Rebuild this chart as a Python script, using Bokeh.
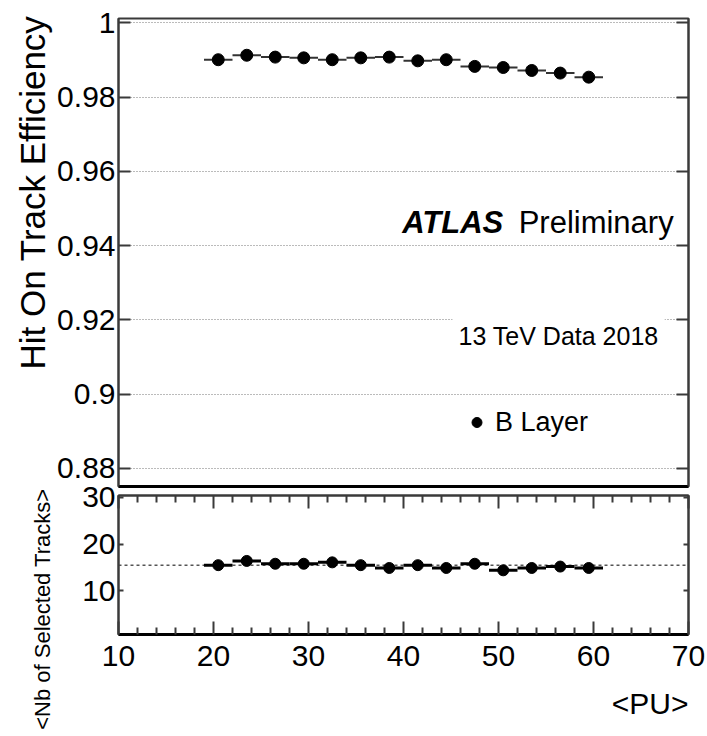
import math
from bokeh.plotting import figure
from bokeh.layouts import column
from bokeh.models import (Range1d, FixedTicker, LinearAxis, Label, Legend, LegendItem,
                          Span, CustomJSTickFormatter, Title)
from bokeh.embed import file_html
from bokeh.resources import INLINE

# ---------------- data ----------------
pu_low = [19, 22, 25, 28, 31, 34, 37, 40, 43, 46, 49, 52, 55, 58]
pu_high = [22, 25, 28, 31, 34, 37, 40, 43, 46, 49, 52, 55, 58, 61]
pu_center = [20.5, 23.5, 26.5, 29.5, 32.5, 35.5, 38.5, 41.5, 44.5, 47.5, 50.5, 53.5, 56.5, 59.5]
efficiency = [0.9901, 0.9913, 0.9908, 0.9906, 0.9901, 0.9906, 0.9908,
              0.9898, 0.9901, 0.9883, 0.9880, 0.9872, 0.9865, 0.9854]
n_tracks = [15.5, 16.4, 15.8, 15.8, 16.1, 15.5, 14.9, 15.5, 14.9, 15.8, 14.4, 14.9, 15.2, 14.9]
mean_tracks = 15.5

eff_ticks = [0.88, 0.90, 0.92, 0.94, 0.96, 0.98, 1.00]
trk_ticks = [10, 20, 30]
pu_ticks = [10, 20, 30, 40, 50, 60, 70]
pu_minor = [12, 14, 16, 18, 22, 24, 26, 28, 32, 34, 36, 38, 42, 44, 46, 48,
            52, 54, 56, 58, 62, 64, 66, 68]

FONT = "Liberation Sans"
AX = "#3a3a3a"

x_range = Range1d(10, 70)


def hidden_axis(ticker, tick_in, minor_in=0, width=2, color=AX):
    return LinearAxis(ticker=ticker, major_label_text_color=None,
                      major_label_text_font_size="1px", major_label_standoff=0,
                      major_tick_in=tick_in, major_tick_out=0,
                      minor_tick_in=minor_in, minor_tick_out=0,
                      minor_tick_line_color=(AX if minor_in else None),
                      minor_tick_line_width=2,
                      axis_line_color=color, axis_line_width=width,
                      major_tick_line_color=AX, major_tick_line_width=2)


# ---------------- top panel ----------------
top = figure(width=707, height=489, x_range=x_range, y_range=Range1d(0.87515, 1.0012),
             output_backend="svg", toolbar_location=None, x_axis_location=None,
             min_border_left=118, min_border_right=19, min_border_top=18, min_border_bottom=3)
top.outline_line_color = AX
top.outline_line_width = 2
top.xgrid.visible = False
top.ygrid.ticker = FixedTicker(ticks=eff_ticks)
top.ygrid.grid_line_color = "#777777"
top.ygrid.grid_line_dash = "1 2"
top.ygrid.grid_line_width = 1

ya = top.yaxis[0]
ya.ticker = FixedTicker(ticks=eff_ticks)
ya.formatter = CustomJSTickFormatter(code="return String(Math.round(tick*100)/100)")
ya.major_label_text_font = FONT
ya.major_label_text_font_size = "30px"
ya.major_label_text_color = "black"
ya.major_label_standoff = 3
ya.major_tick_in = 12
ya.major_tick_out = 0
ya.minor_tick_line_color = None
ya.axis_line_color = AX
ya.axis_line_width = 2
ya.major_tick_line_color = AX
ya.major_tick_line_width = 2

top.add_layout(hidden_axis(FixedTicker(ticks=eff_ticks), 12), "right")
top.add_layout(LinearAxis(ticker=FixedTicker(ticks=[]), axis_line_color="black",
                          axis_line_width=3, major_tick_line_color=None,
                          minor_tick_line_color=None, major_label_standoff=0), "below")

top.segment(x0=pu_low, y0=efficiency, x1=pu_high, y1=efficiency,
            line_color="#333333", line_width=2)
r_eff = top.scatter(pu_center, efficiency, size=12, marker="circle",
                    fill_color="black", line_color="black")

legend = Legend(items=[LegendItem(label="B Layer", renderers=[r_eff])],
                location=(345.9, 38.7), margin=0, padding=11, spacing=0,
                glyph_width=25, glyph_height=50, label_standoff=6, label_width=140,
                label_text_font=FONT, label_text_font_size="27px",
                label_text_color="black",
                border_line_color=None, background_fill_color="white",
                background_fill_alpha=1.0)
top.add_layout(legend)

top.add_layout(Label(x=39.86, y=0.94626, text="ATLAS", text_font=FONT,
                     text_font_style="bold italic", text_font_size="31px",
                     text_color="black", text_baseline="alphabetic"))
top.add_layout(Label(x=52.12, y=0.94626, text="Preliminary", text_font=FONT,
                     text_font_size="31px", text_color="black", text_baseline="alphabetic"))
top.add_layout(Label(x=45.16, y=0.91579, text="13 TeV Data 2018", text_font=FONT,
                     text_font_size="25px", text_color="black", text_baseline="alphabetic",
                     background_fill_color="white", padding=6))

top.add_layout(Title(text="Hit On Track Efficiency", align="right", offset=-3,
                     text_font=FONT, text_font_size="35px", text_font_style="normal",
                     text_color="black", standoff=6), "left")

# ---------------- bottom panel ----------------
bot = figure(width=707, height=257, x_range=x_range, y_range=Range1d(0.71, 30.36),
             output_backend="svg", toolbar_location=None,
             min_border_left=118, min_border_right=19, min_border_top=16, min_border_bottom=102)
bot.margin = (-10, 0, 0, 0)
bot.border_fill_color = None
bot.background_fill_color = "white"
bot.outline_line_color = AX
bot.outline_line_width = 2
bot.grid.visible = False

bx = bot.xaxis[0]
bx.ticker = FixedTicker(ticks=pu_ticks, minor_ticks=pu_minor)
bx.major_label_text_font = FONT
bx.major_label_text_font_size = "30px"
bx.major_label_text_color = "black"
bx.major_label_standoff = 11
bx.major_tick_in = 13
bx.major_tick_out = 0
bx.minor_tick_in = 7
bx.minor_tick_out = 0
bx.axis_line_color = "black"
bx.axis_line_width = 3
bx.major_tick_line_color = AX
bx.major_tick_line_width = 2
bx.minor_tick_line_color = AX
bx.minor_tick_line_width = 2

bot.add_layout(hidden_axis(FixedTicker(ticks=pu_ticks, minor_ticks=pu_minor), 13, 7), "above")

by = bot.yaxis[0]
by.ticker = FixedTicker(ticks=trk_ticks)
by.major_label_text_font = FONT
by.major_label_text_font_size = "30px"
by.major_label_text_color = "black"
by.major_label_standoff = 3
by.major_tick_in = 5
by.major_tick_out = 0
by.minor_tick_line_color = None
by.axis_line_color = AX
by.axis_line_width = 2
by.major_tick_line_color = AX
by.major_tick_line_width = 2

bot.add_layout(hidden_axis(FixedTicker(ticks=trk_ticks), 5), "right")

bot.add_layout(Span(location=mean_tracks, dimension="width", line_color="#555555",
                    line_dash="3 3", line_width=1.5, level="underlay"))
bot.segment(x0=pu_low, y0=n_tracks, x1=pu_high, y1=n_tracks,
            line_color="black", line_width=3)
bot.scatter(pu_center, n_tracks, size=11, marker="circle",
            fill_color="black", line_color="black")

bot.add_layout(Title(text="<Nb of Selected Tracks>", align="right", offset=-7,
                     text_font=FONT, text_font_size="22px", text_font_style="normal",
                     text_color="black", standoff=50), "left")
bot.add_layout(Title(text="<PU>", align="right", offset=0,
                     text_font=FONT, text_font_size="30px", text_font_style="normal",
                     text_color="black", standoff=33), "below")

layout = column(top, bot, spacing=0)
open("out.html", "w").write(file_html(layout, INLINE))
